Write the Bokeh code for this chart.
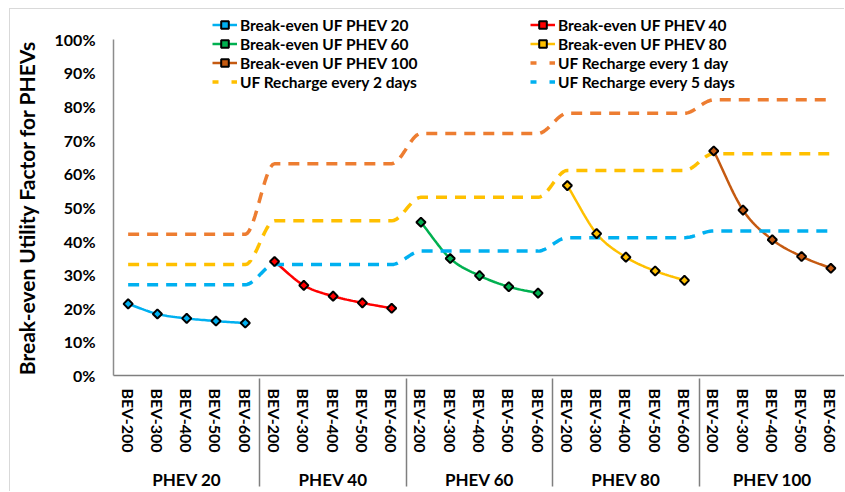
import numpy as np
from bokeh.plotting import figure
from bokeh.models import (FactorRange, Range1d, Legend, LegendItem, NumeralTickFormatter,
                          FixedTicker)
from bokeh.embed import file_html
from bokeh.resources import INLINE

# ---------------- data ----------------
groups = ["PHEV 20", "PHEV 40", "PHEV 60", "PHEV 80", "PHEV 100"]
bevs = ["BEV-200", "BEV-300", "BEV-400", "BEV-500", "BEV-600"]

be_phev20 = [0.213, 0.183, 0.170, 0.162, 0.156]
be_phev40 = [0.339, 0.268, 0.236, 0.216, 0.200]
be_phev60 = [0.456, 0.348, 0.297, 0.264, 0.245]
be_phev80 = [0.565, 0.422, 0.352, 0.311, 0.283]
be_phev100 = [0.668, 0.492, 0.404, 0.354, 0.319]

uf_1day = [0.42, 0.42, 0.42, 0.42, 0.42,
           0.63, 0.63, 0.63, 0.63, 0.63,
           0.72, 0.72, 0.72, 0.72, 0.72,
           0.78, 0.78, 0.78, 0.78, 0.78,
           0.82, 0.82, 0.82, 0.82, 0.82]
uf_2days = [0.33, 0.33, 0.33, 0.33, 0.33,
            0.46, 0.46, 0.46, 0.46, 0.46,
            0.53, 0.53, 0.53, 0.53, 0.53,
            0.61, 0.61, 0.61, 0.61, 0.61,
            0.66, 0.66, 0.66, 0.66, 0.66]
uf_5days = [0.27, 0.27, 0.27, 0.27, 0.27,
            0.33, 0.33, 0.33, 0.33, 0.33,
            0.37, 0.37, 0.37, 0.37, 0.37,
            0.41, 0.41, 0.41, 0.41, 0.41,
            0.43, 0.43, 0.43, 0.43, 0.43]

y_ticks = [0, 0.1, 0.2, 0.3, 0.4, 0.5, 0.6, 0.7, 0.8, 0.9, 1.0]

factors = [(g, b) for g in groups for b in bevs]

FONT = "Lato"
TXT = "#000000"


def smooth(xs, ys, n=16):
    """Monotone cubic (Excel-like smoothed line) through the data points."""
    xs = np.asarray(xs, float)
    ys = np.asarray(ys, float)
    h = np.diff(xs)
    d = np.diff(ys) / h
    m = np.zeros_like(ys)
    m[0] = d[0]
    m[-1] = d[-1]
    for k in range(1, len(ys) - 1):
        if d[k - 1] * d[k] <= 0:
            m[k] = 0.0
        else:
            m[k] = (d[k - 1] + d[k]) / 2
    ox, oy = [], []
    t = np.linspace(0, 1, n)
    for k in range(len(xs) - 1):
        h00 = 2 * t**3 - 3 * t**2 + 1
        h10 = t**3 - 2 * t**2 + t
        h01 = -2 * t**3 + 3 * t**2
        h11 = t**3 - t**2
        yy = h00 * ys[k] + h10 * h[k] * m[k] + h01 * ys[k + 1] + h11 * h[k] * m[k + 1]
        xx = xs[k] + t * h[k]
        if k > 0:
            xx, yy = xx[1:], yy[1:]
        ox.extend(xx)
        oy.extend(yy)
    return ox, oy


x_range = FactorRange(*factors, factor_padding=0, group_padding=0, range_padding=0)
p = figure(x_range=x_range, y_range=Range1d(0, 1.0888), width=835, height=483,
           output_backend="svg", toolbar_location=None,
           min_border_left=103, min_border_right=0, min_border_top=0, min_border_bottom=115)
p.outline_line_color = None
p.xgrid.visible = False
p.ygrid.visible = False
p.styles = {"margin-left": "9px", "margin-top": "8px",
            "border-top": "1px solid #d9d9d9", "border-left": "1px solid #d9d9d9"}

# y axis
ya = p.yaxis[0]
ya.bounds = (0, 1)
ya.ticker = FixedTicker(ticks=y_ticks)
ya.formatter = NumeralTickFormatter(format="0%")
ya.major_tick_line_color = None
ya.minor_tick_line_color = None
ya.major_tick_out = 0
ya.major_tick_in = 0
ya.major_label_standoff = 18
ya.axis_line_color = "#8c8c8c"
ya.axis_line_width = 1.5
ya.major_label_text_font = FONT
ya.major_label_text_font_style = "bold"
ya.major_label_text_font_size = "16px"
ya.major_label_text_color = TXT
# trailing no-break spaces move the title down towards the 0-100% part of the axis
ya.axis_label = "Break-even Utility Factor for PHEVs" + "\u00a0" * 6
ya.axis_label_text_font = FONT
ya.axis_label_text_font_style = "bold"
ya.axis_label_text_font_size = "21px"
ya.axis_label_text_color = TXT
ya.axis_label_standoff = 13

# x axis
xa = p.xaxis[0]
xa.major_label_orientation = "vertical"
xa.major_tick_line_color = None
xa.minor_tick_line_color = None
xa.major_tick_out = 0
xa.major_tick_in = 0
xa.major_label_standoff = 13
xa.axis_line_color = "#7f7f7f"
xa.axis_line_width = 1.5
xa.major_label_text_font = FONT
xa.major_label_text_font_style = "bold"
xa.major_label_text_font_size = "16px"
xa.major_label_text_color = TXT
xa.group_text_font = FONT
xa.group_text_font_style = "bold"
xa.group_text_font_size = "17px"
xa.group_text_color = TXT
xa.separator_line_color = "#7f7f7f"
xa.separator_line_width = 1.5

xs_all = [i + 0.5 for i in range(len(factors))]

be_series = [be_phev20, be_phev40, be_phev60, be_phev80, be_phev100]
be_colors = ["#00B0F0", "#FF0000", "#00B050", "#FFC000", "#C55A11"]
be_names = ["Break-even UF PHEV 20", "Break-even UF PHEV 40", "Break-even UF PHEV 60",
            "Break-even UF PHEV 80", "Break-even UF PHEV 100"]

line_rs = []
for gi, (vals, col) in enumerate(zip(be_series, be_colors)):
    xs = xs_all[gi * 5:(gi + 1) * 5]
    sx, sy = smooth(xs, vals)
    r = p.line(sx, sy, line_color=col, line_width=2.5)
    line_rs.append(r)

uf_series = [uf_1day, uf_2days, uf_5days]
uf_colors = ["#ED7D31", "#FFC000", "#00B0F0"]
uf_names = ["UF Recharge every 1 day", "UF Recharge every 2 days", "UF Recharge every 5 days"]
uf_leg = []
for vals, col in zip(uf_series, uf_colors):
    sx, sy = smooth(xs_all, vals)
    p.line(sx, sy, line_color=col, line_width=3.5, line_dash="11 8")
    # legend key only (single missing point, draws nothing on the plot)
    uf_leg.append(p.line(x=[xs_all[0]], y=[np.nan], line_color=col, line_width=3.5,
                         line_dash="6 13"))

mk_rs = []
for gi, (vals, col) in enumerate(zip(be_series, be_colors)):
    r = p.scatter(x=factors[gi * 5:(gi + 1) * 5], y=vals, marker="square", angle=np.pi / 4,
                  size=6.5, fill_color=col, line_color="black", line_width=2)
    mk_rs.append(r)

items = [LegendItem(label=n, renderers=[lr, mr]) for n, lr, mr in zip(be_names, line_rs, mk_rs)]
items += [LegendItem(label=n, renderers=[r]) for n, r in zip(uf_names, uf_leg)]

col1 = [items[0], items[2], items[4], items[6]]
col2 = [items[1], items[3], items[5], items[7]]


def make_legend(its, loc):
    lg = Legend(items=its, location=loc, orientation="vertical")
    lg.background_fill_alpha = 0
    lg.border_line_color = None
    lg.padding = 0
    lg.margin = 0
    lg.spacing = 0
    lg.glyph_width = 25
    lg.glyph_height = 19
    lg.label_height = 19
    lg.label_standoff = 3
    lg.label_text_font = FONT
    lg.label_text_font_style = "bold"
    lg.label_text_font_size = "15.5px"
    lg.label_text_color = TXT
    return lg


p.add_layout(make_legend(col1, (99, 284)), "center")
p.add_layout(make_legend(col2, (417, 284)), "center")

open("out.html", "w").write(file_html(p, INLINE))
